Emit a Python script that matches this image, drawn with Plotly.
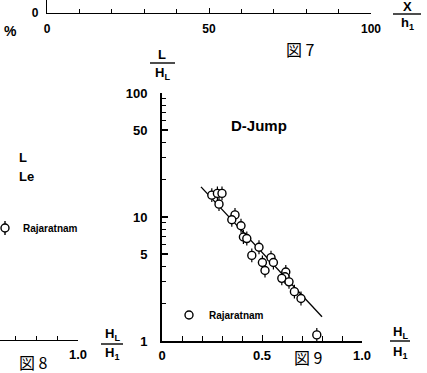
import plotly.graph_objects as go

W, H = 427, 373

# ---------------- Fig. 9 data (D-Jump) ----------------
hl_h1 = [0.249, 0.277, 0.300, 0.285, 0.365, 0.349, 0.395, 0.407, 0.424, 0.485, 0.449,
         0.545, 0.557, 0.502, 0.515, 0.619, 0.615, 0.599, 0.635, 0.662, 0.695, 0.774]
l_hl = [15.0, 15.5, 15.5, 12.7, 10.4, 9.5, 8.5, 6.9, 6.7, 5.7, 4.9,
        4.7, 4.3, 4.3, 3.7, 3.6, 3.3, 3.2, 3.0, 2.5, 2.2, 1.12]
fit_x = [0.195, 0.80]
fit_y = [17.5, 1.57]

x_ticks = [0.0, 0.5, 1.0]
x_ticklabels = ["0", "0.5", "1.0"]
x_minor = [0.1, 0.2, 0.3, 0.4, 0.6, 0.7, 0.8, 0.9]
y_ticks = [1, 5, 10, 50, 100]
y_ticklabels = ["1", "5", "10", "50", "100"]
y_minor = [2, 3, 4, 6, 7, 8, 9, 20, 30, 40, 60, 70, 80, 90]

# ---------------- Fig. 7 / Fig. 8 fragments ----------------
fig7_ticks = [0, 50, 100]
fig7_labels = ["0", "50", "100"]
fig7_minor = [10, 20, 30, 40, 60, 70, 80, 90]
fig8_ticks = [1.0]
fig8_labels = ["1.0"]
fig8_minor = [0.7, 0.8, 0.9]


def px(x):
    return x / W


def py(y):
    return 1 - y / H


BOLD = dict(family="Liberation Sans, Arial, sans-serif", color="black", weight="bold")
CJK = dict(family="Noto Sans CJK JP", color="black")

# stub length for the vertical ticks on each marker (log decades)
stub = 0.056
err_plus = [v * (10 ** stub - 1) for v in l_hl]
err_minus = [v * (1 - 10 ** -stub) for v in l_hl]

fig = go.Figure()

fig.add_trace(go.Scatter(
    x=fit_x, y=fit_y, mode="lines", line=dict(color="black", width=1.3),
    showlegend=False, hoverinfo="skip"))

fig.add_trace(go.Scatter(
    x=hl_h1, y=l_hl, mode="markers", name="Rajaratnam",
    marker=dict(symbol="circle", size=8, color="white",
                line=dict(color="black", width=1.4)),
    error_y=dict(type="data", symmetric=False, array=err_plus, arrayminus=err_minus,
                 color="black", thickness=1.2, width=0),
))

# empty traces to create the fragment subplots
fig.add_trace(go.Scatter(x=[], y=[], xaxis="x2", yaxis="y2", showlegend=False))
fig.add_trace(go.Scatter(x=[], y=[], xaxis="x3", yaxis="y3", showlegend=False))

axis_common = dict(showline=True, linecolor="black", showgrid=False, zeroline=False,
                   ticks="inside", tickcolor="black", automargin=False)


def minor(vals, ln=4, w=1.1):
    return dict(tickvals=vals, ticklen=ln, tickwidth=w, ticks="inside",
                tickcolor="black", showgrid=False)


fig.update_layout(
    width=W, height=H, margin=dict(l=0, r=0, t=0, b=0, autoexpand=False),
    paper_bgcolor="white", plot_bgcolor="white",
    font=dict(family="Liberation Sans, Arial, sans-serif", color="black"),
    xaxis=dict(domain=[px(162), px(362)], range=[0, 1.0], anchor="y",
               tickvals=x_ticks, ticktext=x_ticklabels, ticklen=6, tickwidth=1.3,
               linewidth=1.5, tickfont=dict(size=13, **BOLD), ticklabelstandoff=2,
               minor=minor(x_minor, 5, 1.3), **axis_common),
    yaxis=dict(domain=[py(341), py(93)], type="log", range=[0, 2], anchor="x",
               tickvals=y_ticks, ticktext=y_ticklabels, ticklen=6, tickwidth=1.5,
               linewidth=2, tickfont=dict(size=13, **BOLD), ticklabelstandoff=10,
               minor=minor(y_minor, 4, 1.2), **axis_common),
    xaxis2=dict(domain=[px(47), px(371)], range=[0, 100], anchor="y2",
                tickvals=fig7_ticks, ticktext=fig7_labels, ticklen=5, tickwidth=1,
                linewidth=1.3, tickfont=dict(size=12, **BOLD), ticklabelstandoff=4,
                minor=minor(fig7_minor, 4, 1), **axis_common),
    yaxis2=dict(domain=[py(13), 1], range=[0, 1], anchor="x2",
                tickvals=[0], ticktext=["0"], ticklen=0, linewidth=1.3,
                tickfont=dict(size=12, **BOLD), ticklabelstandoff=5,
                showline=True, linecolor="black", showgrid=False, zeroline=False,
                automargin=False),
    xaxis3=dict(domain=[0, px(78)], range=[1.0 - 78 / 210, 1.0], anchor="y3",
                tickvals=fig8_ticks, ticktext=fig8_labels, ticklen=6, tickwidth=1,
                linewidth=1.3, tickfont=dict(size=13, **BOLD), ticklabelstandoff=2,
                minor=minor(fig8_minor, 4, 1), **axis_common),
    yaxis3=dict(domain=[py(340), py(300)], range=[0, 1], anchor="x3", visible=False,
                automargin=False),
    showlegend=True,
    legend=dict(x=px(169), y=py(315), xanchor="left", yanchor="middle",
                bgcolor="rgba(0,0,0,0)", borderwidth=0,
                font=dict(size=10, **BOLD), itemwidth=30),
)

annotations = [
    # Fig 9 titles
    dict(x=px(162), y=py(55), text="L", font=dict(size=13, **BOLD)),
    dict(x=px(162), y=py(73), text="H<sub>L</sub>", font=dict(size=13, **BOLD)),
    dict(x=px(400), y=py(332), text="H<sub>L</sub>", font=dict(size=13, **BOLD)),
    dict(x=px(400), y=py(352), text="H<sub>1</sub>", font=dict(size=13, **BOLD)),
    dict(x=px(259), y=py(125), text="D-Jump", font=dict(size=15, **BOLD)),
    dict(x=px(308), y=py(357), text="図 9", font=dict(size=16, **CJK)),
    # Fig 7 fragment
    dict(x=px(407), y=py(6), text="X", font=dict(size=13, **BOLD)),
    dict(x=px(407), y=py(23), text="h<sub>1</sub>", font=dict(size=13, **BOLD)),
    dict(x=px(300), y=py(49), text="図 7", font=dict(size=16, **CJK)),
    dict(x=px(10), y=py(31), text="%", font=dict(size=14, **BOLD)),
    # Fig 8 fragment
    dict(x=px(112), y=py(334), text="H<sub>L</sub>", font=dict(size=13, **BOLD)),
    dict(x=px(112), y=py(353), text="H<sub>1</sub>", font=dict(size=13, **BOLD)),
    dict(x=px(33), y=py(362), text="図 8", font=dict(size=16, **CJK)),
    dict(x=px(17), y=py(157), text="L", xanchor="left", font=dict(size=13, **BOLD)),
    dict(x=px(17), y=py(176), text="Le", xanchor="left", font=dict(size=13, **BOLD)),
    dict(x=px(21), y=py(228), text="Rajaratnam", xanchor="left", font=dict(size=10, **BOLD)),
]
for a in annotations:
    a.setdefault("xanchor", "center")
    a.update(xref="paper", yref="paper", yanchor="middle", showarrow=False)
fig.update_layout(annotations=annotations)

shapes = [
    dict(type="line", x0=px(150), x1=px(175), y0=py(63), y1=py(63)),
    dict(type="line", x0=px(390), x1=px(410), y0=py(341), y1=py(341)),
    dict(type="line", x0=px(393), x1=px(421), y0=py(14), y1=py(14)),
    dict(type="line", x0=px(101), x1=px(123), y0=py(344), y1=py(344)),
    # Fig 8 legend key
    dict(type="line", x0=px(5), x1=px(5), y0=py(221), y1=py(235)),
    dict(type="circle", x0=px(1), x1=px(9), y0=py(224), y1=py(232), fillcolor="white"),
]
for s in shapes:
    s.update(xref="paper", yref="paper", line=dict(color="black", width=1.4))
fig.update_layout(shapes=shapes)

fig.write_html("out.html",
               config={"displayModeBar": False},
               post_script="document.body.style.margin='0';document.body.style.overflow='hidden';")
